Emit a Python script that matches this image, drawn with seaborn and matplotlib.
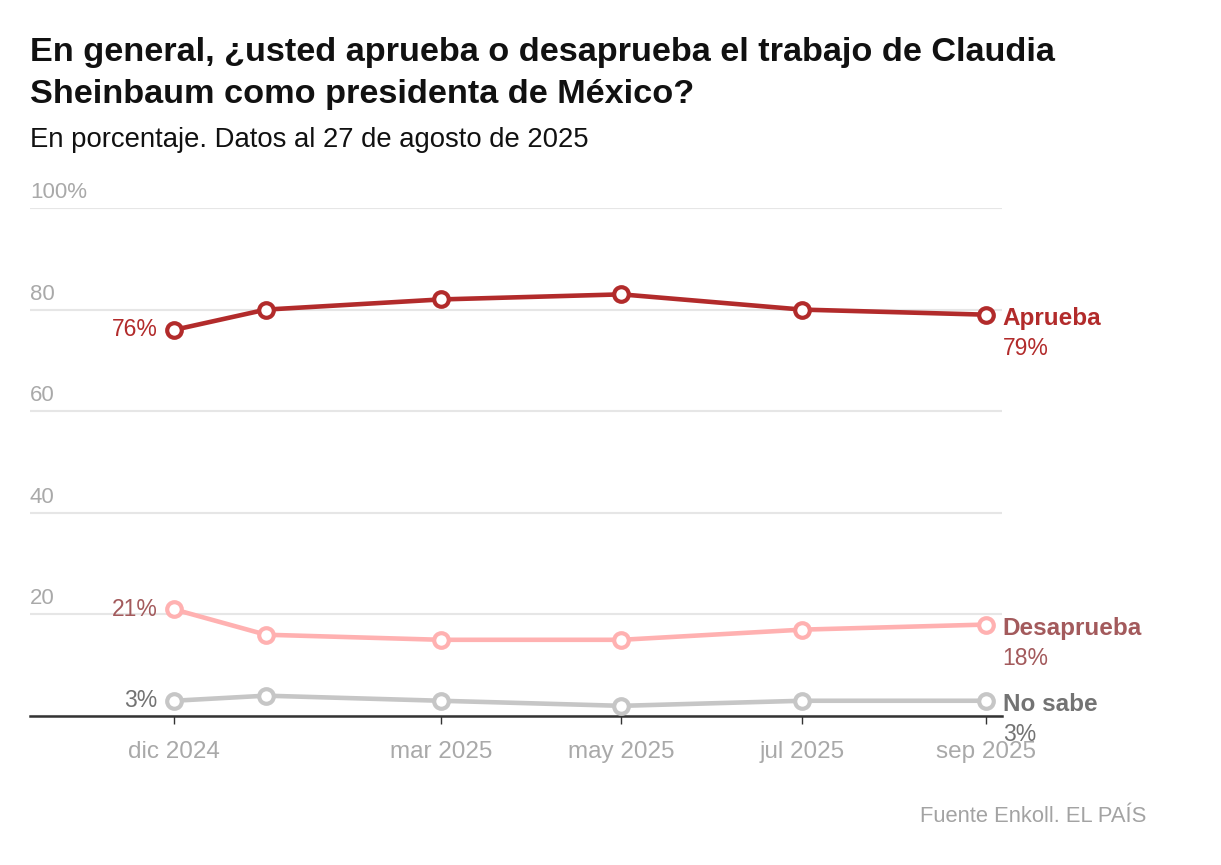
import matplotlib
matplotlib.use('Agg')
import matplotlib.pyplot as plt
import matplotlib.dates as mdates
import seaborn as sns
import pandas as pd

# Datos (Enkoll)
fechas = ['2024-12-01', '2025-01-01', '2025-03-01', '2025-05-01', '2025-07-01', '2025-09-01']
aprueba = [76, 80, 82, 83, 80, 79]
desaprueba = [21, 16, 15, 15, 17, 18]
no_sabe = [3, 4, 3, 2, 3, 3]

series = ['Aprueba', 'Desaprueba', 'No sabe']
ticks = ['2024-12-01', '2025-03-01', '2025-05-01', '2025-07-01', '2025-09-01']
tick_labels = ['dic 2024', 'mar 2025', 'may 2025', 'jul 2025', 'sep 2025']
y_ticks = [0, 20, 40, 60, 80, 100]
y_labels = ['', '20', '40', '60', '80', '100%']

colores_linea = {'Aprueba': '#b22b2b', 'Desaprueba': '#ffb1b1', 'No sabe': '#c6c6c6'}
colores_texto = {'Aprueba': '#b22b2b', 'Desaprueba': '#a35a5c', 'No sabe': '#737373'}

df = pd.DataFrame({
    'fecha': pd.to_datetime(fechas * 3),
    'serie': [s for s in series for _ in fechas],
    'valor': aprueba + desaprueba + no_sabe,
})

sns.set_style('white')
plt.rcParams['font.family'] = ['Liberation Sans', 'DejaVu Sans']

fig = plt.figure(figsize=(12.21, 8.65), dpi=100)
ax = fig.add_axes([30 / 1221, 1 - 716 / 865, (1002 - 30) / 1221, (716 - 208) / 865])

for s in series:
    d = df[df['serie'] == s]
    sns.lineplot(data=d, x='fecha', y='valor', ax=ax, color=colores_linea[s],
                 linewidth=3.3, marker='o', markersize=10.5, markerfacecolor='white',
                 markeredgecolor=colores_linea[s], markeredgewidth=3, zorder=3)

ax.set_ylim(0, 100)
x0 = pd.Timestamp('2024-12-01')
ax.set_xlim(mdates.date2num(x0 - pd.Timedelta(days=48.6)),
            mdates.date2num(x0 + pd.Timedelta(days=279.4)))

ax.set_yticks(y_ticks)
ax.set_yticklabels([])
for v, lab in zip(y_ticks, y_labels):
    ax.text(0, v + 1.0, lab, transform=ax.get_yaxis_transform(), ha='left', va='bottom',
            fontsize=16, color='#a9a9a9')
ax.grid(axis='y', color='#e6e6e6', linewidth=1.5)
ax.tick_params(axis='y', length=0)

ax.set_xticks(pd.to_datetime(ticks))
ax.set_xticklabels(tick_labels, fontsize=17.5, color='#a9a9a9')
ax.tick_params(axis='x', bottom=True, direction='out', length=6, width=1,
               color='#333333', pad=12)

for sp in ['top', 'right', 'left']:
    ax.spines[sp].set_visible(False)
ax.spines['bottom'].set_color('#333333')
ax.spines['bottom'].set_linewidth(1.8)
ax.set_xlabel('')
ax.set_ylabel('')

# Etiquetas a la izquierda y a la derecha
primeros = {'Aprueba': aprueba[0], 'Desaprueba': desaprueba[0], 'No sabe': no_sabe[0]}
ultimos = {'Aprueba': aprueba[-1], 'Desaprueba': desaprueba[-1], 'No sabe': no_sabe[-1]}
for s in series:
    ax.annotate(f'{primeros[s]}%', (pd.Timestamp(fechas[0]), primeros[s]),
                xytext=(-12, 0), textcoords='offset points', ha='right', va='center',
                fontsize=16.5, color=colores_texto[s])
    ax.annotate(s, (pd.Timestamp(fechas[-1]), ultimos[s]),
                xytext=(12, -3), textcoords='offset points', ha='left', va='center',
                fontsize=17.5, fontweight='bold', color=colores_texto[s], annotation_clip=False)
    ax.annotate(f'{ultimos[s]}%', (pd.Timestamp(fechas[-1]), ultimos[s]),
                xytext=(12, -24.5), textcoords='offset points', ha='left', va='center',
                fontsize=16.5, color=colores_texto[s], annotation_clip=False)

fig.text(30 / 1221, 1 - 37 / 865,
         'En general, ¿usted aprueba o desaprueba el trabajo de Claudia\nSheinbaum como presidenta de México?',
         ha='left', va='top', fontsize=24.7, fontweight='bold', color='#111111',
         linespacing=1.45)
fig.text(30 / 1221, 1 - 140 / 865, 'En porcentaje. Datos al 27 de agosto de 2025',
         ha='left', va='center', fontsize=19.8, color='#111111')
fig.text(1146 / 1221, 1 - 816 / 865, 'Fuente Enkoll. EL PAÍS', ha='right', va='center',
         fontsize=15.8, color='#a3a3a3')

fig.savefig('out.png', dpi=100)
